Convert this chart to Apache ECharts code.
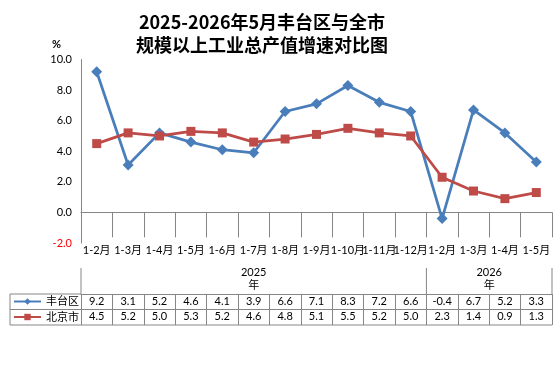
<!DOCTYPE html>
<html lang="zh">
<head>
    <meta charset="UTF-8"/>
    <title>丰台区与全市规模以上工业总产值增速对比图</title>
    <style>
        html, body {
            margin: 0;
            padding: 0;
            background: #ffffff;
            overflow: hidden;
        }

        #chart {
            width: 554px;
            height: 378px;
        }
    </style>
</head>
<body>
<div id="chart"></div>
<script src="https://cdn.jsdelivr.net/npm/echarts@6/dist/echarts.min.js"></script>
<script>
    // data
    const months = ['1-2月', '1-3月', '1-4月', '1-5月', '1-6月', '1-7月', '1-8月', '1-9月', '1-10月', '1-11月', '1-12月',
        '1-2月', '1-3月', '1-4月', '1-5月'];
    const years = ['2025', '2026'];
    const yearCounts = [11, 4];
    const fengtai = [9.2, 3.1, 5.2, 4.6, 4.1, 3.9, 6.6, 7.1, 8.3, 7.2, 6.6, -0.4, 6.7, 5.2, 3.3];
    const beijing = [4.5, 5.2, 5.0, 5.3, 5.2, 4.6, 4.8, 5.1, 5.5, 5.2, 5.0, 2.3, 1.4, 0.9, 1.3];

    const chart = echarts.init(document.getElementById('chart'));

    const font = "Lato, 'Noto Sans CJK SC', sans-serif";
    const lineColor = '#868686';

    // layout of plot + data table (pixels)
    const plotLeft = 81, plotRight = 552, plotTop = 59.5, plotBottom = 243;
    const tableLeft = 10;
    const catRowBottom = 268, yearRowBottom = 294, row1Bottom = 309.5, row2Bottom = 325;
    const catW = (plotRight - plotLeft) / months.length;

    // table lines that are not covered by axes
    let graphics = [];
    function hline(y, x1, x2) {
        graphics.push({
            type: 'line', shape: {x1: x1, y1: y, x2: x2, y2: y},
            style: {stroke: lineColor, lineWidth: 1}
        });
    }
    function vline(x, y1, y2) {
        graphics.push({
            type: 'line', shape: {x1: x, y1: y1, x2: x, y2: y2},
            style: {stroke: lineColor, lineWidth: 1}
        });
    }
    hline(yearRowBottom, tableLeft, plotLeft);
    hline(row1Bottom, tableLeft, plotLeft);
    hline(row2Bottom, tableLeft, plotRight);
    vline(tableLeft, yearRowBottom, row2Bottom);

    // year group row
    let start = 0;
    vline(plotLeft, catRowBottom, yearRowBottom);
    years.forEach((yr, i) => {
        const x0 = plotLeft + start * catW;
        const x1 = plotLeft + (start + yearCounts[i]) * catW;
        vline(x1, catRowBottom, yearRowBottom);
        graphics.push({
            type: 'text',
            x: (x0 + x1) / 2,
            y: 265.5,
            style: {
                text: yr + '\n年',
                align: 'center',
                verticalAlign: 'top',
                font: '11px ' + font,
                lineHeight: 13,
                fill: '#000'
            }
        });
        start += yearCounts[i];
    });

    const option = {
        backgroundColor: '#ffffff',
        animation: false,
        title: {
            text: '2025-2026年5月丰台区与全市\n规模以上工业总产值增速对比图',
            left: 257,
            top: 6,
            textAlign: 'center',
            textStyle: {
                fontFamily: "'Noto Sans CJK SC'",
                fontSize: 18,
                fontWeight: 'bold',
                lineHeight: 22.5,
                color: '#000'
            }
        },
        legend: {
            orient: 'vertical',
            left: 8,
            top: 294.5,
            padding: [0, 5],
            itemWidth: 27,
            itemHeight: 8,
            itemGap: 1.5,
            textStyle: {fontFamily: font, fontSize: 11, lineHeight: 14, color: '#000'},
            data: ['丰台区', '北京市']
        },
        grid: {
            left: plotLeft,
            right: 554 - plotRight,
            top: plotTop,
            bottom: 378 - plotBottom
        },
        xAxis: [
            {
                type: 'category',
                data: months,
                axisLine: {lineStyle: {color: lineColor}},
                axisTick: {show: true, interval: 0, length: catRowBottom - plotBottom, lineStyle: {color: lineColor}},
                axisLabel: {interval: 0, margin: 2, fontFamily: font, fontSize: 11, color: '#000'}
            },
            {
                type: 'category',
                data: months,
                position: 'bottom',
                offset: yearRowBottom - plotBottom,
                axisLine: {lineStyle: {color: lineColor}},
                axisTick: {show: true, interval: 0, length: row2Bottom - yearRowBottom, lineStyle: {color: lineColor}},
                axisLabel: {
                    interval: 0, margin: 1.5, fontFamily: font, fontSize: 11, color: '#000',
                    formatter: (v, i) => fengtai[i].toFixed(1)
                }
            },
            {
                type: 'category',
                data: months,
                position: 'bottom',
                offset: row1Bottom - plotBottom,
                axisLine: {lineStyle: {color: lineColor}},
                axisTick: {show: false},
                axisLabel: {
                    interval: 0, margin: 1.5, fontFamily: font, fontSize: 11, color: '#000',
                    formatter: (v, i) => beijing[i].toFixed(1)
                }
            }
        ],
        yAxis: {
            type: 'value',
            min: -2,
            max: 10,
            interval: 2,
            name: '%',
            nameLocation: 'end',
            nameGap: 10,
            nameTextStyle: {
                fontFamily: font, fontSize: 11, fontWeight: 'bold', color: '#000',
                align: 'right', padding: [0, 20, 0, 0]
            },
            axisLine: {show: true, lineStyle: {color: lineColor}},
            axisTick: {show: false},
            splitLine: {show: false},
            axisLabel: {
                margin: 9,
                fontFamily: font,
                fontSize: 11,
                formatter: v => v < 0 ? '{neg|' + v.toFixed(1) + '}' : v.toFixed(1),
                color: '#000',
                rich: {neg: {color: '#ff0000', fontFamily: font, fontSize: 11}}
            }
        },
        series: [
            {
                name: '丰台区',
                type: 'line',
                data: fengtai,
                symbol: 'diamond',
                symbolSize: 11,
                itemStyle: {color: '#4A7EBB'},
                lineStyle: {width: 2.75, color: '#4A7EBB'}
            },
            {
                name: '北京市',
                type: 'line',
                data: beijing,
                symbol: 'rect',
                symbolSize: 9,
                itemStyle: {color: '#BE4B48'},
                lineStyle: {width: 2.75, color: '#BE4B48'}
            }
        ],
        graphic: graphics
    };

    chart.setOption(option);
</script>
</body>
</html>
